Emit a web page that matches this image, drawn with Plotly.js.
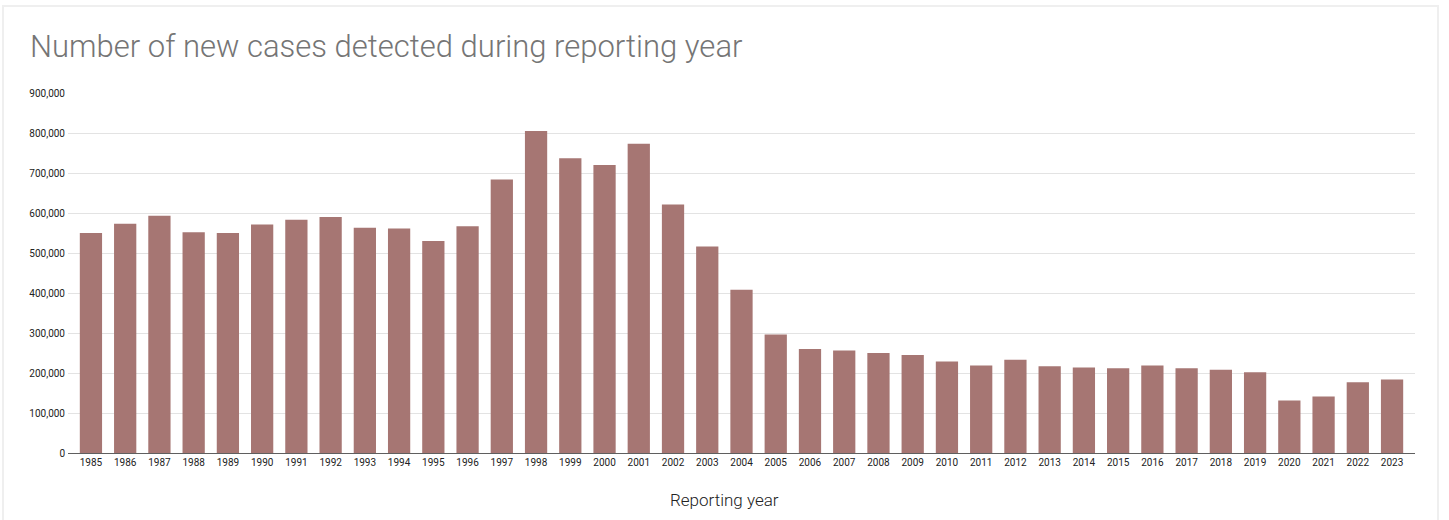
<!DOCTYPE html>
<html>
<head>
<meta charset="utf-8">
<script src="https://cdn.plot.ly/plotly-3.0.1.min.js"></script>
<style>
  html, body { margin: 0; padding: 0; background: #ffffff; }
  #wrap { position: relative; width: 1449px; height: 520px; overflow: hidden; }
  #chart { position: absolute; left: 0; top: 0; width: 1449px; height: 520px; }
  #frame { position: absolute; left: 2px; top: 5px; width: 1437px; height: 530px;
           border: 2px solid #efefef; box-sizing: border-box; pointer-events: none; }
</style>
</head>
<body>
<div id="wrap">
  <div id="chart"></div>
  <div id="frame"></div>
</div>
<script>
const years = ["1985","1986","1987","1988","1989","1990","1991","1992","1993","1994",
  "1995","1996","1997","1998","1999","2000","2001","2002","2003","2004",
  "2005","2006","2007","2008","2009","2010","2011","2012","2013","2014",
  "2015","2016","2017","2018","2019","2020","2021","2022","2023"];
const newCases = [550000, 573000, 593000, 552000, 550000, 571000, 583000, 590000, 563000, 561000,
  530000, 567000, 684000, 805000, 737000, 720000, 773000, 621000, 516000, 408000,
  296000, 260000, 256000, 250000, 245000, 229000, 219000, 233000, 217000, 214000,
  212000, 219000, 212000, 208000, 202000, 131000, 141000, 177000, 184000];
const yTicks = [0, 100000, 200000, 300000, 400000, 500000, 600000, 700000, 800000, 900000];
const yTickText = ["0","100,000","200,000","300,000","400,000","500,000","600,000","700,000","800,000","900,000"];
const chartTitle = "Number of new cases detected during reporting year";
const xTitle = "Reporting year";

const trace = {
  type: "bar",
  x: years,
  y: newCases,
  marker: { color: "#a67673", line: { width: 0 } },
  hoverinfo: "x+y"
};

const layout = {
  width: 1449,
  height: 520,
  paper_bgcolor: "#ffffff",
  plot_bgcolor: "#ffffff",
  margin: { l: 68, r: 34, t: 93, b: 67 },
  bargap: 0.35,
  showlegend: false,
  font: { family: "Roboto, sans-serif", color: "#333333", size: 10 },
  title: {
    text: chartTitle,
    xref: "container", x: 30 / 1449, xanchor: "left",
    yref: "container", y: 1 - 35 / 520, yanchor: "top",
    font: { family: "Roboto, sans-serif", size: 31, color: "#757575", weight: 300 }
  },
  xaxis: {
    type: "category",
    range: [-0.67, 38.67],
    showgrid: false,
    showline: true,
    linecolor: "#5f5f5f",
    linewidth: 1,
    ticks: "",
    tickfont: { family: "Roboto, sans-serif", size: 10, color: "#222222" },
    fixedrange: true
  },
  yaxis: {
    range: [0, 900000],
    tickvals: yTicks,
    ticktext: yTickText,
    showgrid: true,
    gridcolor: "#e3e3e3",
    gridwidth: 1,
    zeroline: false,
    showline: false,
    ticks: "",
    ticklabelstandoff: 2,
    tickfont: { family: "Roboto, sans-serif", size: 10, color: "#222222" },
    fixedrange: true
  },
  annotations: [{
    text: xTitle,
    xref: "paper", yref: "paper",
    x: 0.4874, y: -0.13,
    xanchor: "center", yanchor: "middle",
    showarrow: false,
    font: { family: "Roboto, sans-serif", size: 17, color: "#222222", weight: 300 }
  }]
};

Plotly.newPlot("chart", [trace], layout, { displayModeBar: false, staticPlot: true });
</script>
</body>
</html>
